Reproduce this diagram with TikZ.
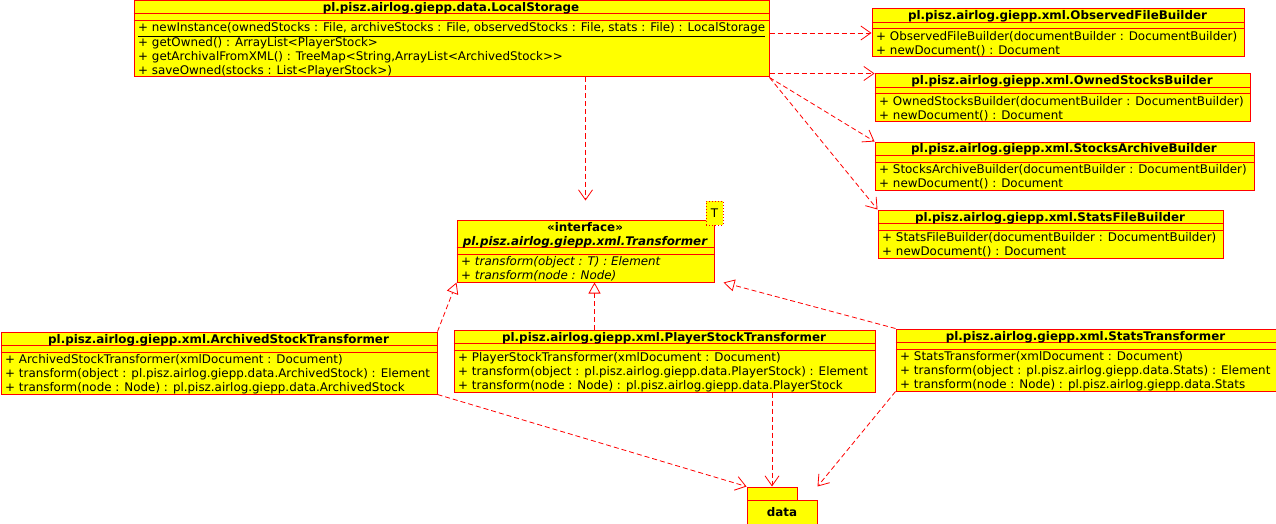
\documentclass[tikz,border=0pt]{standalone}
\usepackage{fontspec}
\setmainfont{DejaVu Sans}
\usetikzlibrary{arrows.meta,calc}
\definecolor{umlred}{RGB}{255,0,0}
\definecolor{umlyel}{RGB}{255,255,0}
\tikzset{
 cls/.style={draw=umlred, fill=umlyel, line width=1pt, inner sep=0pt, rectangle},
 clsline/.style={draw=umlred, line width=1pt},
 rowtxt/.style={anchor=base west, inner sep=0pt, font=\fontsize{11.9}{13}\selectfont},
 titletxt/.style={anchor=base, inner sep=0pt, font=\fontsize{11.9}{13}\selectfont\bfseries},
 dep/.style={draw=umlred, line width=0.8pt, dash pattern=on 5pt off 3pt, -{Straight Barb[length=10pt,width=14pt]}},
 real/.style={draw=umlred, line width=0.8pt, dash pattern=on 5pt off 3pt, -{Triangle[open,length=11pt,width=12pt,fill=white]}},
}
\newcounter{tc}
\newcommand\rowt[3]{\stepcounter{tc}\node[rowtxt] (t\thetc) at (#1,#2) {#3};}
\newcommand\titlet[3]{\stepcounter{tc}\node[titletxt] (t\thetc) at (#1,#2) {#3};}
\newcommand\classbox[7]{%
 \node[cls, minimum width=#4pt, minimum height=#5pt, anchor=north west] (#1) at (#2,#3) {};
 \draw[clsline] ($(#1.north west)+(0,#6)$) -- ($(#1.north east)+(0,#6)$);
 \draw[clsline] ($(#1.north west)+(0,#7)$) -- ($(#1.north east)+(0,#7)$);}
\begin{document}
\begin{tikzpicture}[x=1pt,y=-1pt]
\useasboundingbox (0,0) rectangle (1276,524);
% LocalStorage
\classbox{ls}{133.5}{0.5}{635}{76}{13.5}{20}
\titlet{451}{11.5}{pl.pisz.airlog.giepp.data.LocalStorage}
\rowt{138}{32}{\underline{+ newInstance(ownedStocks : File, archiveStocks : File, observedStocks : File, stats : File) : LocalStorage}}
\rowt{138}{46.5}{+ getOwned() : ArrayList<PlayerStock>}
\rowt{138}{60.5}{+ getArchivalFromXML() : TreeMap<String,ArrayList<ArchivedStock>{}>}
\rowt{138}{74.5}{+ saveOwned(stocks : List<PlayerStock>)}
% ObservedFileBuilder
\classbox{ofb}{871.5}{8.5}{372}{48}{14}{20.5}
\titlet{1057.5}{20}{pl.pisz.airlog.giepp.xml.ObservedFileBuilder}
\rowt{876}{40.5}{+ ObservedFileBuilder(documentBuilder : DocumentBuilder)}
\rowt{876}{54.5}{+ newDocument() : Document}
% OwnedStocksBuilder
\classbox{osb}{874.5}{73.5}{375}{48}{14}{20.5}
\titlet{1062}{85}{pl.pisz.airlog.giepp.xml.OwnedStocksBuilder}
\rowt{879}{105.5}{+ OwnedStocksBuilder(documentBuilder : DocumentBuilder)}
\rowt{879}{119.5}{+ newDocument() : Document}
% StocksArchiveBuilder
\classbox{sab}{874.5}{141.5}{379}{48}{14}{20.5}
\titlet{1064}{153}{pl.pisz.airlog.giepp.xml.StocksArchiveBuilder}
\rowt{879}{173.5}{+ StocksArchiveBuilder(documentBuilder : DocumentBuilder)}
\rowt{879}{187.5}{+ newDocument() : Document}
% StatsFileBuilder
\classbox{sfb}{877.5}{209.5}{345}{48}{14}{20.5}
\titlet{1050}{221}{pl.pisz.airlog.giepp.xml.StatsFileBuilder}
\rowt{882}{241.5}{+ StatsFileBuilder(documentBuilder : DocumentBuilder)}
\rowt{882}{255.5}{+ newDocument() : Document}
% Transformer
\classbox{tr}{456.5}{219.5}{257}{62}{28}{34.5}
\titlet{585}{231}{«interface»}
\titlet{585}{245}{\itshape pl.pisz.airlog.giepp.xml.Transformer}
\rowt{461}{265.5}{\itshape + transform(object : T) : Element}
\rowt{461}{279.5}{\itshape + transform(node : Node)}
\node[draw=umlred, fill=umlyel, line width=1pt, dotted, inner sep=0pt, minimum width=17pt, minimum height=24pt, anchor=north west] (tparam) at (705.5,200.5) {};
\node[inner sep=0pt, font=\fontsize{11.9}{13}\selectfont] (tlabel) at (tparam.center) {T};
% ArchivedStockTransformer
\classbox{ast}{0.5}{331.5}{436}{62}{14}{20.5}
\titlet{218.5}{343}{pl.pisz.airlog.giepp.xml.ArchivedStockTransformer}
\rowt{5}{363.5}{+ ArchivedStockTransformer(xmlDocument : Document)}
\rowt{5}{377.5}{+ transform(object : pl.pisz.airlog.giepp.data.ArchivedStock) : Element}
\rowt{5}{391}{+ transform(node : Node) : pl.pisz.airlog.giepp.data.ArchivedStock}
% PlayerStockTransformer
\classbox{pst}{453.5}{329.5}{421}{62}{14}{20.5}
\titlet{664}{341}{pl.pisz.airlog.giepp.xml.PlayerStockTransformer}
\rowt{458}{361.5}{+ PlayerStockTransformer(xmlDocument : Document)}
\rowt{458}{375.5}{+ transform(object : pl.pisz.airlog.giepp.data.PlayerStock) : Element}
\rowt{458}{389}{+ transform(node : Node) : pl.pisz.airlog.giepp.data.PlayerStock}
% StatsTransformer
\classbox{st}{895.5}{328.5}{380}{62}{14}{20.5}
\titlet{1085.5}{340}{pl.pisz.airlog.giepp.xml.StatsTransformer}
\rowt{900}{360.5}{+ StatsTransformer(xmlDocument : Document)}
\rowt{900}{374.5}{+ transform(object : pl.pisz.airlog.giepp.data.Stats) : Element}
\rowt{900}{388}{+ transform(node : Node) : pl.pisz.airlog.giepp.data.Stats}
% data package
\node[cls, minimum width=50pt, minimum height=13pt, anchor=north west] (datat) at (746.5,486.5) {};
\node[cls, minimum width=70pt, minimum height=24pt, anchor=north west] (datab) at (746.5,499.5) {};
\node[titletxt, anchor=center] (datal) at (datab.center) {data};
% connectors
\draw[dep] (ls.east |- ofb.west) -- (ofb.west);
\draw[dep] (ls.east |- osb.north west) -- (osb.north west);
\draw[dep] (ls.south east) -- (sab.north west);
\draw[dep] (ls.south east) -- (sfb.north west);
\draw[dep] (tr.north |- ls.south) -- (tr.north |- tparam.north);
\draw[real] (ast.north east) -- (tr.south west);
\draw[real] ($(pst.north -| tr.south)+(9,0)$) -- ($(tr.south)+(9,0)$);
\draw[real] (st.north west) -- (tparam.east |- tr.south);
\draw[dep] (ast.south east) -- (datat.north west);
\draw[dep] (pst.south -| datat.north) -- (datat.north);
\draw[dep] (st.south west) -- (datab.east |- datat.north);
\end{tikzpicture}
\end{document}
